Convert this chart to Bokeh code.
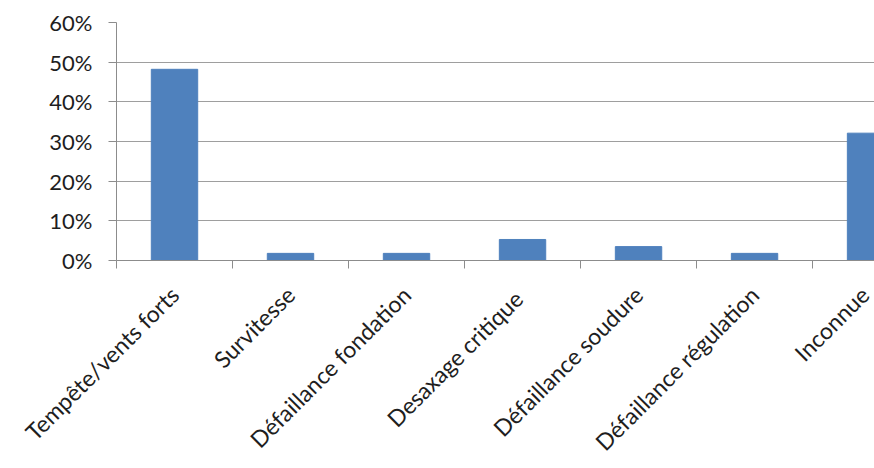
import math
from bokeh.plotting import figure
from bokeh.models import Range1d, FixedTicker, LinearAxis, NumeralTickFormatter
from bokeh.embed import file_html
from bokeh.resources import INLINE

# ---- data ----
categories = ["Tempête/vents forts", "Survitesse", "Défaillance fondation",
              "Desaxage  critique", "Défaillance soudure", "Défaillance régulation",
              "Inconnue"]
values = [0.482, 0.018, 0.018, 0.053, 0.035, 0.018, 0.321]
y_ticks = [0.0, 0.1, 0.2, 0.3, 0.4, 0.5, 0.6]

centers = [i + 0.5 for i in range(len(categories))]
boundaries = [float(i) for i in range(len(categories) + 1)]

FONT = "Lato"
AXIS_GRAY = "#8c8c8c"
TEXT = "#1e1e1e"

p = figure(width=874, height=468,
           x_range=Range1d(0, 6.534), y_range=Range1d(0, 0.6),
           x_axis_type=None,
           output_backend="svg", toolbar_location=None,
           min_border_left=116, min_border_right=0,
           min_border_top=22, min_border_bottom=0)
p.outline_line_color = None
p.background_fill_color = "white"
p.border_fill_color = "white"

p.vbar(x=centers, top=values, width=0.4, fill_color="#4F81BD", line_color="#4F81BD")

# y axis
ya = p.yaxis[0]
ya.ticker = FixedTicker(ticks=y_ticks)
ya.formatter = NumeralTickFormatter(format="0%")
ya.major_tick_out = 8
ya.major_tick_in = 0
ya.minor_tick_line_color = None
ya.axis_line_color = AXIS_GRAY
ya.major_tick_line_color = AXIS_GRAY
ya.major_label_text_font = FONT
ya.major_label_text_font_size = "22px"
ya.major_label_text_color = TEXT
ya.major_label_standoff = 16

p.xgrid.visible = False
p.ygrid.ticker = FixedTicker(ticks=y_ticks)
p.ygrid.grid_line_color = "#9e9e9e"
p.ygrid.grid_line_width = 1

# x axis: labels at category centres, tick marks at category boundaries
xa = LinearAxis(ticker=FixedTicker(ticks=centers, minor_ticks=boundaries),
                major_label_overrides={c: n for c, n in zip(centers, categories)})
xa.major_tick_line_color = None
xa.major_tick_out = 8
xa.major_tick_in = 0
xa.minor_tick_out = 8
xa.minor_tick_in = 0
xa.minor_tick_line_color = AXIS_GRAY
xa.axis_line_color = AXIS_GRAY
xa.major_label_orientation = math.pi / 4
xa.major_label_text_font = FONT
xa.major_label_text_font_size = "23px"
xa.major_label_text_color = TEXT
xa.major_label_standoff = 22
p.add_layout(xa, "below")

open("out.html", "w").write(file_html(p, INLINE))
